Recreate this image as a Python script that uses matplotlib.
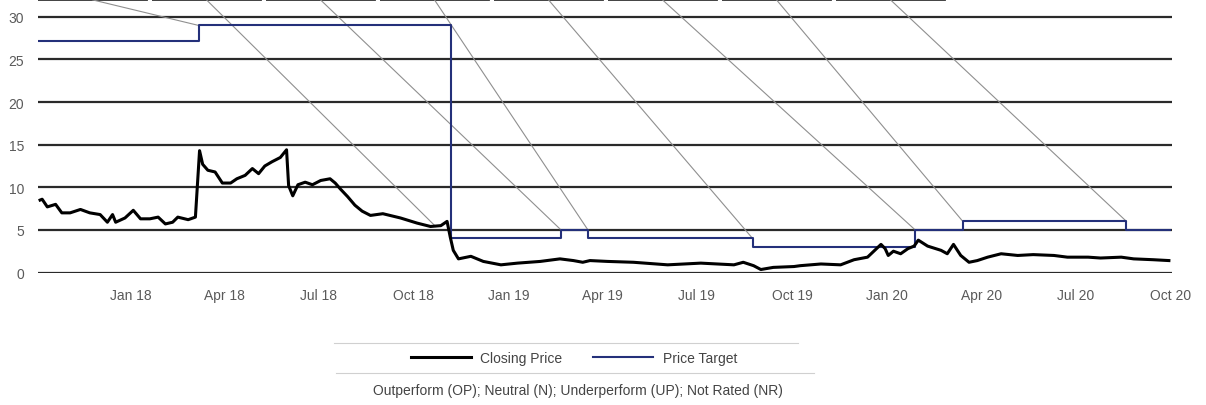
import numpy as np
import pandas as pd
import matplotlib
matplotlib.use("Agg")
import matplotlib.pyplot as plt
import matplotlib.dates as mdates
from matplotlib.lines import Line2D
from matplotlib.patches import Rectangle
import matplotlib.transforms as mtransforms

plt.rcParams["font.family"] = ["Liberation Sans", "DejaVu Sans"]

# closing price
close_dates = [
    "2017-10-05", "2017-10-07", "2017-10-12", "2017-10-20", "2017-10-26", "2017-11-03",
    "2017-11-13", "2017-11-22", "2017-12-02", "2017-12-09", "2017-12-14", "2017-12-17",
    "2017-12-26", "2018-01-03", "2018-01-10", "2018-01-19", "2018-01-27", "2018-02-03",
    "2018-02-10", "2018-02-15", "2018-02-25", "2018-03-04", "2018-03-08", "2018-03-11",
    "2018-03-16", "2018-03-23", "2018-03-30", "2018-04-07", "2018-04-13", "2018-04-21",
    "2018-04-28", "2018-05-04", "2018-05-10", "2018-05-17", "2018-05-25", "2018-05-31",
    "2018-06-02", "2018-06-06", "2018-06-11", "2018-06-18", "2018-06-25", "2018-07-03",
    "2018-07-12", "2018-07-17", "2018-07-22", "2018-07-29", "2018-08-05", "2018-08-12",
    "2018-08-20", "2018-09-01", "2018-09-18", "2018-10-04", "2018-10-17", "2018-10-27",
    "2018-11-02", "2018-11-05", "2018-11-08", "2018-11-13", "2018-11-25", "2018-12-07",
    "2018-12-24", "2019-01-09", "2019-01-31", "2019-02-19", "2019-03-04", "2019-03-13",
    "2019-03-20", "2019-04-06", "2019-05-01", "2019-06-03", "2019-07-05", "2019-08-06",
    "2019-08-15", "2019-08-25", "2019-09-01", "2019-09-13", "2019-10-03", "2019-10-09",
    "2019-10-29", "2019-11-17", "2019-11-30", "2019-12-13", "2019-12-26", "2019-12-30",
    "2020-01-02", "2020-01-07", "2020-01-14", "2020-01-21", "2020-01-27", "2020-01-31",
    "2020-02-09", "2020-02-22", "2020-02-28", "2020-03-05", "2020-03-12", "2020-03-20",
    "2020-03-28", "2020-04-07", "2020-04-20", "2020-05-06", "2020-05-21", "2020-06-10",
    "2020-06-23", "2020-07-13", "2020-07-25", "2020-08-14", "2020-08-26", "2020-09-14",
    "2020-09-29",
]
close_vals = [
    8.5, 8.6, 7.7, 8.0, 7.0, 7.0,
    7.4, 7.0, 6.8, 5.9, 6.8, 5.9,
    6.4, 7.3, 6.3, 6.3, 6.5, 5.7,
    5.9, 6.5, 6.2, 6.5, 14.3, 12.7,
    12.0, 11.8, 10.5, 10.5, 11.0, 11.4,
    12.2, 11.6, 12.5, 13.0, 13.5, 14.4,
    10.2, 9.0, 10.3, 10.6, 10.3, 10.8,
    11.0, 10.5, 9.8, 8.9, 7.9, 7.2,
    6.7, 6.9, 6.4, 5.8, 5.4, 5.5,
    6.0, 4.2, 2.6, 1.6, 1.9, 1.3,
    0.9, 1.1, 1.3, 1.6, 1.4, 1.2,
    1.4, 1.3, 1.2, 0.9, 1.1, 0.9,
    1.2, 0.8, 0.35, 0.6, 0.7, 0.8,
    1.0, 0.9, 1.5, 1.8, 3.3, 2.8,
    2.0, 2.5, 2.2, 2.8, 3.1, 3.8,
    3.1, 2.6, 2.2, 3.3, 2.0, 1.2,
    1.4, 1.8, 2.2, 2.0, 2.1, 2.0,
    1.8, 1.8, 1.7, 1.8, 1.6, 1.5,
    1.4,
]

# price target steps
target_dates = ["2017-10-03", "2018-03-07", "2018-11-06", "2019-02-20", "2019-03-18",
                "2019-08-24", "2020-01-28", "2020-03-14", "2020-08-19", "2020-09-30"]
target_vals = [27.2, 29, 4, 5, 4, 3, 5, 6, 5, 5]

# rating-box leader lines end here
leader_dates = ["2018-03-07", "2018-10-22", "2019-02-20", "2019-03-18",
                "2019-08-24", "2020-01-28", "2020-03-14", "2020-08-19"]
leader_vals = [29, 5.4, 5, 5, 4, 5, 6, 6]

y_ticks = [0, 5, 10, 15, 20, 25, 30]
legend_labels = ["Closing Price", "Price Target"]
footer = "Outperform (OP); Neutral (N); Underperform (UP); Not Rated (NR)"

W, H = 1206, 406
fig = plt.figure(figsize=(W / 100, H / 100), dpi=100)
ax = fig.add_axes([38 / W, (H - 273.5) / H, (1172 - 38) / W, 273.5 / H])

x0 = mdates.date2num(pd.Timestamp("2017-10-03"))
x1 = mdates.date2num(pd.Timestamp("2020-10-02"))
ax.set_xlim(x0, x1)
ax.set_ylim(0, 32.1)

for v in y_ticks:
    ax.axhline(v, color="#2a2a2a", lw=1.6, zorder=1)

cd = pd.to_datetime(close_dates)
ax.plot(cd, close_vals, color="black", lw=2.2, zorder=4, label=legend_labels[0])
td = pd.to_datetime(target_dates)
ax.plot(td, target_vals, color="#24307a", lw=1.5, drawstyle="steps-post", zorder=3,
        label=legend_labels[1])

# rating boxes at the top (cut off by the crop) and their leader lines
trans = mtransforms.blended_transform_factory(ax.transAxes, ax.transData)
span = 1172 - 38
for i, (d, v) in enumerate(zip(leader_dates, leader_vals)):
    bx = 114 * i / span
    bw = 109 / span
    ax.add_patch(Rectangle((bx, 32.0), bw, 3, transform=trans, fill=False,
                           edgecolor="#333333", lw=1.3, clip_on=False))
    cx = x0 + (bx + bw / 2) * (x1 - x0)
    ax.plot([cx, mdates.date2num(pd.Timestamp(d))], [32.0, v], color="#8f8f8f",
            lw=0.8, zorder=2, clip_on=False)

ax.xaxis.set_major_locator(mdates.MonthLocator(bymonth=[1, 4, 7, 10]))
ax.xaxis.set_major_formatter(mdates.DateFormatter("%b %y"))
ax.set_yticks(y_ticks)
ax.tick_params(axis="both", length=0, labelsize=10, labelcolor="#5a5a5a")
ax.tick_params(axis="y", pad=10)
ax.tick_params(axis="x", pad=11)
for s in ax.spines.values():
    s.set_visible(False)

# legend block
fig.add_artist(Line2D([334 / W, 798 / W], [1 - 344 / H, 1 - 344 / H], color="#d0d0d0", lw=0.8))
fig.add_artist(Line2D([336 / W, 814 / W], [1 - 374 / H, 1 - 374 / H], color="#d0d0d0", lw=0.8))
fig.legend(loc="center", bbox_to_anchor=(574 / W, 1 - 359 / H), ncol=2, frameon=False,
           fontsize=10, handlelength=4.3, handletextpad=0.7, columnspacing=2.2,
           labelcolor="#444444")
fig.text(578 / W, 1 - 391 / H, footer, ha="center", va="center", fontsize=10, color="#444444")

fig.savefig("out.png", dpi=100)
